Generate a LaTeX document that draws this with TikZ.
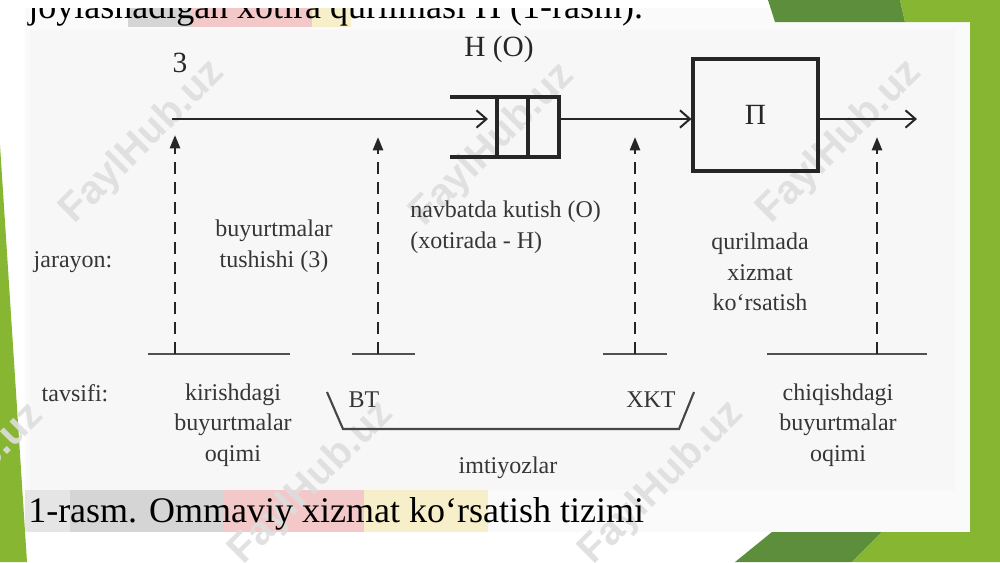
\documentclass[tikz,border=0pt]{standalone}
\usepackage{fontspec}
\setmainfont{Liberation Serif}
\newfontfamily\wmfont{Liberation Sans}
\usetikzlibrary{arrows.meta}
\definecolor{gdark}{HTML}{5C8E3C}
\definecolor{glight}{HTML}{86B632}
\definecolor{txt}{HTML}{363636}
\definecolor{ln}{HTML}{262626}
\definecolor{hlgray}{HTML}{D5D5D5}
\definecolor{hlpink}{HTML}{F3C8C8}
\definecolor{hlyellow}{HTML}{F7EFC9}
\definecolor{wmgray}{HTML}{DEDEDE}
\begin{document}
\begin{tikzpicture}[x=0.75pt,y=-0.75pt,
  lbl/.style={text=txt,font=\fontsize{18}{23}\selectfont,inner sep=0pt,align=center},
  biglbl/.style={text=ln,font=\fontsize{22}{24}\selectfont,inner sep=0pt},
  capt/.style={text=black,font=\fontsize{27}{30}\selectfont,inner sep=0pt,anchor=base west},
  flow/.style={draw=ln,line width=1.6pt,-{Straight Barb[length=7.5pt,width=13pt,line width=1.5pt]}},
  dasharrow/.style={draw=ln,line width=1.9pt,dash pattern=on 9pt off 6pt,-{Triangle[length=10pt,width=7.5pt]}},
  baseln/.style={draw=ln!80,line width=1.8pt},
  thick box/.style={draw=ln,line width=2.3pt},
  wm/.style={text=wmgray,font=\wmfont\bfseries\fontsize{30}{32}\selectfont,rotate=45,inner sep=0pt,opacity=0.9}
]
\useasboundingbox (0,0) rectangle (1000,562);
\clip (0,0) rectangle (1000,562);
% slide background
\fill[white] (0,0) rectangle (1000,562);
% left green
\fill[glight] (0,145) -- (27,562) -- (0,562) -- cycle;
% figure image
\fill[white!98!black] (25,0) rectangle (970,532);
\fill[white!97!black] (30,30) rectangle (955,490);
% highlight bands
\fill[hlgray] (128,0) rectangle (191,27);
\fill[hlpink] (191,0) rectangle (312,27);
\fill[hlyellow] (312,0) rectangle (351,27);
\fill[white!90!black] (25,490) rectangle (70,532);
\fill[hlgray] (70,490) rectangle (224,532);
\fill[hlpink] (224,490) rectangle (364,532);
\fill[hlyellow] (364,490) rectangle (488,532);

% watermarks
\node[wm] (wm1) at (143,142) {FaylHub.uz};
\node[wm] (wm2) at (493,145) {FaylHub.uz};
\node[wm] (wm3) at (840,142) {FaylHub.uz};
\node[wm] (wm4) at (-38,485) {FaylHub.uz};
\node[wm] (wm5) at (312,483) {FaylHub.uz};
\node[wm] (wm6) at (662,483) {FaylHub.uz};

% text lines of the page
\node[capt] (topline) at (28,18) {joylashadigan xotira qurilmasi H (1-rasm).};
\fill[white] (25,0) rectangle (770,8);
\node[capt] (caption) at (28,522) {1-rasm. Ommaviy xizmat ko‘rsatish tizimi};

% top right green
\fill[gdark] (768,0) -- (775,22) -- (905,22) -- (900,0) -- cycle;
\fill[glight] (900,0) -- (905,22) -- (970,22) -- (970,0) -- cycle;
\fill[glight] (970,0) rectangle (1000,562);
% bottom right green
\fill[gdark] (735,562) -- (772,532) -- (882,532) -- (852,562) -- cycle;
\fill[glight] (852,562) -- (882,532) -- (1000,532) -- (1000,562) -- cycle;

% diagram
\coordinate (start) at (172,119);
\coordinate (qin) at (488,119);
\coordinate (qout) at (559,119);
\coordinate (out) at (917,119);
% queue
\draw[thick box] (450,97) -- (559,97) -- (559,157) -- (450,157);
\draw[thick box] (497,97) -- (497,157);
\draw[thick box] (528,97) -- (528,157);
\node[thick box,minimum width=125pt*0.75,minimum height=112pt*0.75,inner sep=0pt] (P) at (755.5,115) {};
\node[biglbl] (Plbl) at (P.center) {П};
\draw[flow] (start) -- (qin);
\draw[flow] (qout) -- (qout -| P.west);
\draw[flow] (qout -| P.east) -- (out);
\node[biglbl] (Z) at (180,63) {3};
\node[biglbl] (HO) at (499,49) {H (O)};

% base lines
\draw[baseln] (148,354) coordinate (b1l) -- (290,354) coordinate (b1r);
\draw[baseln] (352,354) coordinate (b2l) -- (415,354) coordinate (b2r);
\draw[baseln] (603,354) coordinate (b3l) -- (667,354) coordinate (b3r);
\draw[baseln] (767,354) coordinate (b4l) -- (927,354) coordinate (b4r);
\coordinate (d1) at (175,354); \coordinate (t1) at (175,135);
\coordinate (d2) at (378,354); \coordinate (t2) at (378,137);
\coordinate (d3) at (635,354); \coordinate (t3) at (635,137);
\coordinate (d4) at (877,354); \coordinate (t4) at (877,137);
\draw[dasharrow] (d1) -- (t1);
\draw[dasharrow] (d2) -- (t2);
\draw[dasharrow] (d3) -- (t3);
\draw[dasharrow] (d4) -- (t4);

% bracket
\coordinate (br1) at (327,392);
\coordinate (br2) at (343,429);
\coordinate (br3) at (679,429);
\coordinate (br4) at (694,392);
\draw[draw=ln!85,line width=1.6pt] (br1) -- (br2) -- (br3) -- (br4);

% labels
\node[lbl] (jar) at (73,262) {jarayon:};
\node[lbl] (tav) at (75,393) {tavsifi:};
\node[lbl] (bt1) at (274,246) {buyurtmalar\\tushishi (3)};
\node[lbl,align=left,anchor=north west] (nav) at (410,201) {navbatda kutish (O)\\(xotirada - H)};
\node[lbl] (qur) at (760,272) {qurilmada\\xizmat\\ko‘rsatish};
\node[lbl] (kir) at (233,425) {kirishdagi\\buyurtmalar\\oqimi};
\node[lbl] (chi) at (838,425) {chiqishdagi\\buyurtmalar\\oqimi};
\node[lbl] (BT) at (364,400) {BT};
\node[lbl] (XKT) at (651,400) {XKT};
\node[lbl] (imt) at (508,468) {imtiyozlar};
\end{tikzpicture}
\end{document}
